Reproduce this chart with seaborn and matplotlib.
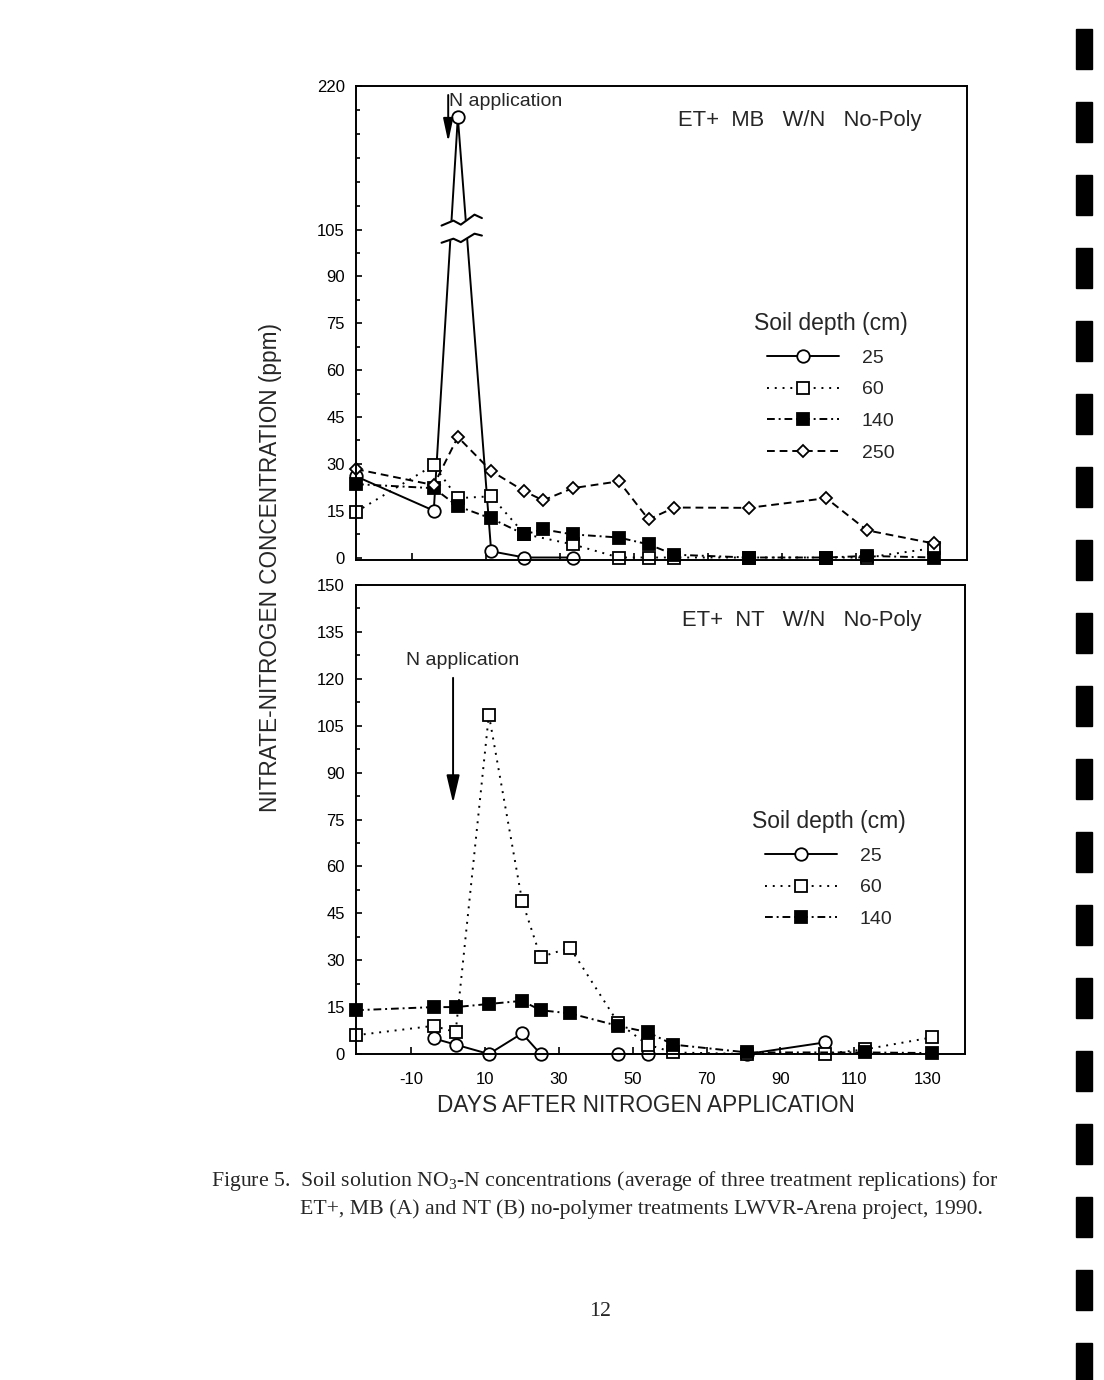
import numpy as np
import matplotlib
matplotlib.use('Agg')
import matplotlib.pyplot as plt
import seaborn as sns
from matplotlib.patches import Rectangle

sns.set_theme(style='ticks')
plt.rcParams['font.family'] = ['Liberation Sans', 'DejaVu Sans']
plt.rcParams['mathtext.fontset'] = 'custom'
plt.rcParams['mathtext.rm'] = 'Liberation Serif'
plt.rcParams['mathtext.default'] = 'rm'
plt.rcParams['axes.unicode_minus'] = False

# --- data (days after N application, ppm) ---
# panel A: ET+ MB W/N No-Poly
a_days_25 = [-25, -4, 2.5, 11.5, 20.5, 33.5]
a_ppm_25 = [26, 15, 195, 2, 0, 0]
a_days_60 = [-25, -4, 2.5, 11.5, 20.5, 33.5, 46, 54, 61, 81, 102, 113, 131]
a_ppm_60 = [14.6, 29.6, 19, 19.6, 7.5, 4.2, 0, 0, 0, 0, 0, 0, 3]
a_days_140 = [-25, -4, 2.5, 11.5, 20.5, 25.5, 33.5, 46, 54, 61, 81, 102, 113, 131]
a_ppm_140 = [23.5, 22.2, 16.4, 12.5, 7.4, 9, 7.4, 6.4, 4.2, 0.9, 0, 0, 0.5, 0]
a_days_250 = [-25, -4, 2.5, 11.5, 20.5, 25.5, 33.5, 46, 54, 61, 81, 102, 113, 131]
a_ppm_250 = [28.3, 23.2, 38.6, 27.7, 21.2, 18.3, 22.2, 24.4, 12.2, 16, 15.9, 19, 8.7, 4.5]

# panel B: ET+ NT W/N No-Poly
b_days_25 = [-4, 2, 11, 20, 25, 46, 54, 81, 102]
b_ppm_25 = [5, 3, 0, 6.6, 0, 0, 0, 0, 3.7]
b_days_60 = [-25, -4, 2, 11, 20, 25, 33, 46, 54, 61, 81, 102, 113, 131]
b_ppm_60 = [6, 9, 7, 108.5, 49, 31, 34, 10, 3, 0.5, 0, 0, 1.5, 5.3]
b_days_140 = [-25, -4, 2, 11, 20, 25, 33, 46, 54, 61, 81, 113, 131]
b_ppm_140 = [14, 15, 15, 16, 17, 14, 13, 9, 7, 3, 0.5, 0.5, 0.3]

x_ticks = [-10, 10, 30, 50, 70, 90, 110, 130]

W, H = 1104, 1380
fig = plt.figure(figsize=(W / 100, H / 100), dpi=100)
fig.patch.set_facecolor('white')


def box(l, t, r, b):
    return [l / W, 1 - b / H, (r - l) / W, (b - t) / H]


ax1 = fig.add_axes(box(356, 86, 967, 560))
ax2 = fig.add_axes(box(356, 585, 965, 1054))

styles = {
    '25': dict(linestyle='-', marker='o', markerfacecolor='white', markersize=9),
    '60': dict(linestyle=(0, (1, 3)), marker='s', markerfacecolor='white', markersize=8.5),
    '140': dict(linestyle=(0, (4, 2, 1, 2)), marker='s', markerfacecolor='black', markersize=8.5),
    '250': dict(linestyle=(0, (4, 2.5)), marker='D', markerfacecolor='white', markersize=6.5),
}


def draw(ax, x, y, key):
    sns.lineplot(x=x, y=y, ax=ax, color='black', linewidth=1.4, sort=False,
                 markeredgecolor='black', markeredgewidth=1.3, clip_on=False,
                 label=key, **styles[key])


# broken y axis for panel A: 105..220 squeezed
def fwd(y):
    y = np.asarray(y, dtype=float)
    return np.where(y <= 105, y, 105 + (y - 105) * 0.4)


def inv(t):
    t = np.asarray(t, dtype=float)
    return np.where(t <= 105, t, 105 + (t - 105) / 0.4)


ax1.set_yscale('function', functions=(fwd, inv))

draw(ax1, a_days_25, a_ppm_25, '25')
draw(ax1, a_days_60, a_ppm_60, '60')
draw(ax1, a_days_140, a_ppm_140, '140')
draw(ax1, a_days_250, a_ppm_250, '250')

draw(ax2, b_days_25, b_ppm_25, '25')
draw(ax2, b_days_60, b_ppm_60, '60')
draw(ax2, b_days_140, b_ppm_140, '140')

# break marks on the 25 cm peak
bx = np.array([-1.9, 1.3, 3.3, 7.0, 9.0])
up = np.array([106.3, 107.9, 106.6, 109.8, 108.7])
lo = np.array([100.8, 102.1, 101.0, 103.7, 103.1])
ax1.fill(np.r_[bx, bx[::-1]], inv(np.r_[up, lo[::-1]]), color='white', zorder=5, clip_on=False)
ax1.plot(bx, inv(up), color='black', lw=1.5, zorder=6, clip_on=False)
ax1.plot(bx, inv(lo), color='black', lw=1.5, zorder=6, clip_on=False)

ax1.set_ylim(-0.8, 220)
ax2.set_ylim(0, 150)
for ax in (ax1, ax2):
    ax.set_xlim(-25, 140)
    ax.set_xticks(x_ticks)
    ax.set_xlabel('')
    ax.set_ylabel('')
    for s in ax.spines.values():
        s.set_linewidth(1.4)
        s.set_color('black')
    ax.tick_params(axis='both', which='both', direction='in', colors='black',
                   labelsize=12, top=False, right=False, width=1.2)
    ax.tick_params(axis='y', which='major', length=4, pad=8)
    ax.tick_params(axis='y', which='minor', length=3)
    ax.tick_params(axis='x', which='major', length=5, pad=13)

ax1.set_yticks([0, 15, 30, 45, 60, 75, 90, 105, 220])
ax1.set_yticks(list(np.arange(7.5, 105, 15)) + list(np.linspace(105, 220, 7)[1:-1]), minor=True)
ax1.tick_params(axis='x', labelbottom=False)
ax2.set_yticks(np.arange(0, 151, 15))
ax2.set_yticks(np.arange(7.5, 150, 15), minor=True)

# legends
leg_kw = dict(title='Soil depth (cm)', loc='upper left', frameon=False, fontsize=14,
              title_fontsize=16.5, handlelength=3.7, handletextpad=1.2,
              labelspacing=0.72, borderpad=0, borderaxespad=0)
ax1.legend(bbox_to_anchor=(0.651, 0.523), **leg_kw)
ax2.legend(bbox_to_anchor=(0.650, 0.52), **leg_kw)

ax1.text(0.925, 0.928, 'ET+  MB   W/N   No-Poly', transform=ax1.transAxes,
         ha='right', va='center', fontsize=15.8)
ax2.text(0.928, 0.925, 'ET+  NT   W/N   No-Poly', transform=ax2.transAxes,
         ha='right', va='center', fontsize=15.8)

# N application arrows
ax1.text(0, 0.968, 'N application', transform=ax1.get_xaxis_transform(),
         ha='left', va='center', fontsize=14)
ax1.annotate('', xy=(-0.1, 0.882), xytext=(-0.1, 0.981), xycoords=ax1.get_xaxis_transform(),
             arrowprops=dict(arrowstyle='-|>,head_length=1.4,head_width=0.3',
                             mutation_scale=10, color='black', lw=1.4, shrinkA=0, shrinkB=0))
ax2.text(-11.4, 0.840, 'N application', transform=ax2.get_xaxis_transform(),
         ha='left', va='center', fontsize=14)
ax2.annotate('', xy=(1.3, 0.535), xytext=(1.3, 0.802), xycoords=ax2.get_xaxis_transform(),
             arrowprops=dict(arrowstyle='-|>,head_length=1.7,head_width=0.4',
                             mutation_scale=10, color='black', lw=1.4, shrinkA=0, shrinkB=0))

fig.text(270 / W, 1 - 568 / H, 'NITRATE-NITROGEN CONCENTRATION (ppm)', rotation=90,
         ha='center', va='center', fontsize=16.3)
fig.text(646 / W, 1 - 1105 / H, 'DAYS AFTER NITROGEN APPLICATION',
         ha='center', va='center', fontsize=16.3)

serif = ['Liberation Serif', 'DejaVu Serif']
fig.text(211 / W, 1 - 1181 / H,
         'Figure 5.  Soil solution NO$_3$-N concentrations (average of three treatment replications) for',
         ha='left', va='center', fontsize=15.7, family=serif)
fig.text(300 / W, 1 - 1209 / H,
         'ET+, MB (A) and NT (B) no-polymer treatments LWVR-Arena project, 1990.',
         ha='left', va='center', fontsize=15.7, family=serif)
fig.text(600 / W, 1 - 1311 / H, '12', ha='center', va='center', fontsize=15.7, family=serif)

# scanner registration marks down the right edge
for top in np.arange(29, H, 73):
    fig.add_artist(Rectangle((1076 / W, 1 - (top + 40) / H), 16 / W, 40 / H,
                             transform=fig.transFigure, color='black'))

fig.savefig('out.png', dpi=100)
